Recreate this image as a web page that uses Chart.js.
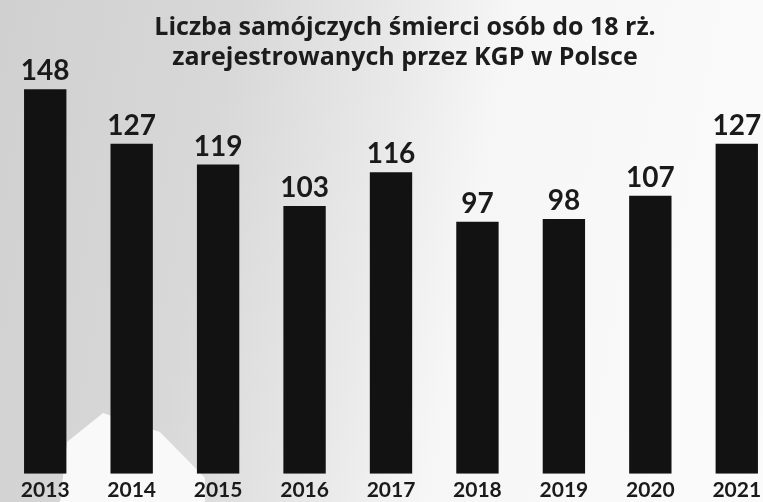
<!DOCTYPE html>
<html lang="pl">
<head>
<meta charset="utf-8">
<title>Liczba samójczych śmierci osób do 18 rż.</title>
<script src="https://cdn.jsdelivr.net/npm/chart.js@4/dist/chart.umd.min.js"></script>
<style>
    html, body {
        margin: 0;
        padding: 0;
        width: 763px;
        height: 502px;
        overflow: hidden;
    }
    body {
        background: linear-gradient(100deg, #d0d0d0 0%, #d8d8d8 28%, #e9e9e9 48%, #f6f6f6 60%, #fbfbfb 100%);
    }
    #patch {
        position: absolute;
        left: 0;
        top: 0;
        width: 763px;
        height: 502px;
        background: #f9f9f9;
        clip-path: polygon(67px 442px, 103px 413px, 160px 432px, 205px 478px, 205px 502px, 60px 502px);
    }
    #wrap {
        position: absolute;
        left: 0;
        top: 0;
        width: 780px;
        height: 502px;
    }
    #title {
        position: absolute;
        left: 100px;
        width: 610px;
        top: 10px;
        text-align: center;
        font-family: "Open Sans", sans-serif;
        font-weight: bold;
        font-size: 25px;
        line-height: 30px;
        color: #1c1c1c;
    }
</style>
</head>
<body>
<div id="patch"></div>
<div id="wrap"><canvas id="suicideChart"></canvas></div>
<div id="title">Liczba samójczych śmierci osób do 18 rż.<br>zarejestrowanych przez KGP w Polsce</div>
<script>
const years = ['2013', '2014', '2015', '2016', '2017', '2018', '2019', '2020', '2021'];
const deaths = [148, 127, 119, 103, 116, 97, 98, 107, 127];

// numbers above the bars
const valueLabels = {
    id: 'valueLabels',
    afterDatasetsDraw(chart) {
        const ctx = chart.ctx;
        const meta = chart.getDatasetMeta(0);
        ctx.save();
        ctx.font = 'bold 28px Lato, sans-serif';
        ctx.fillStyle = '#1a1a1a';
        ctx.textAlign = 'center';
        ctx.textBaseline = 'alphabetic';
        meta.data.forEach((bar, i) => {
            ctx.fillText(String(deaths[i]), bar.x, bar.y - 9);
        });
        ctx.restore();
    }
};

document.addEventListener("DOMContentLoaded", function () {
    const ctx = document.getElementById('suicideChart').getContext('2d');
    new Chart(ctx, {
        type: 'bar',
        data: {
            labels: years,
            datasets: [{
                label: 'Liczba samobójczych śmierci',
                data: deaths,
                backgroundColor: '#121212',
                borderWidth: 0,
                barPercentage: 0.49,
                categoryPercentage: 1
            }]
        },
        options: {
            responsive: true,
            maintainAspectRatio: false,
            animation: false,
            layout: {
                padding: { left: 2, right: 0, top: 6, bottom: -5 }
            },
            plugins: {
                legend: { display: false },
                tooltip: { enabled: false }
            },
            scales: {
                x: {
                    grid: { display: false, drawTicks: false },
                    border: { display: false },
                    ticks: {
                        color: '#1a1a1a',
                        padding: 4,
                        font: { family: 'Lato, sans-serif', size: 21, weight: 'bold' }
                    }
                },
                y: {
                    display: false,
                    min: 0,
                    max: 180
                }
            }
        },
        plugins: [valueLabels]
    });
});
</script>
</body>
</html>
